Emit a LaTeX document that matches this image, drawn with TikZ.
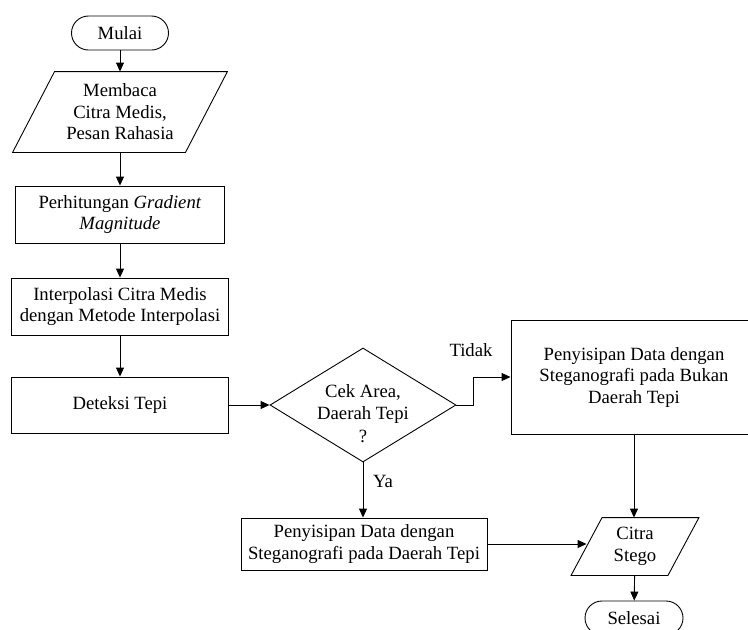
\documentclass[tikz,border=0pt]{standalone}
\usepackage{fontspec}
\setmainfont{Liberation Serif}
\usetikzlibrary{shapes.geometric, arrows.meta}

\newcommand{\jajar}[2]{\draw ([xshift=#2]#1.north west) -- ([xshift=#2]#1.north east) -- ([xshift=-#2]#1.south east) -- ([xshift=-#2]#1.south west) -- cycle;}

\tikzset{
  terminal/.style={draw, rectangle, rounded corners=17pt, minimum height=34pt, inner sep=0pt},
  proses/.style={draw, rectangle, align=center, minimum height=57pt, inner sep=0pt},
  dataio/.style={rectangle, align=center, inner sep=0pt},
  cek/.style={draw, diamond, aspect=1.63, align=center, inner sep=-10pt, minimum width=186pt, minimum height=114pt}
}

\begin{document}
\begin{tikzpicture}[x=1pt, y=-1pt, line width=0.9pt, font=\fontsize{18.7}{21.5}\selectfont, >={Triangle[length=9pt,width=8pt]}]
          \useasboundingbox (0,0) rectangle (748,630);
          \node[terminal, minimum width=97pt] (mulai) at (120,33) {Mulai};
          \node[dataio, minimum width=172pt, minimum height=80pt] (baca) at (120,112) {Membaca\\Citra Medis,\\Pesan Rahasia};
          \jajar{baca}{21pt}
          \node[proses, minimum width=209pt] (gradien) at (120,214.5) {Perhitungan \textit{Gradient}\\\textit{Magnitude}};
          \node[proses, minimum width=217pt] (interp) at (120,306.5) {Interpolasi Citra Medis\\dengan Metode Interpolasi};
          \node[proses, minimum width=217pt, minimum height=56pt] (tepi) at (120,405) {Deteksi Tepi};
          \node[cek] (cek) at (363,405) {\rule{0pt}{30pt}Cek Area,\\Daerah Tepi\\[1.5pt]?};
          \node[proses, minimum width=246pt, minimum height=114pt] (bukan) at (634,377) {Penyisipan Data dengan\\Steganografi pada Bukan\\Daerah Tepi};
          \node[proses, minimum width=246pt, minimum height=52pt] (sisip) at (364,544) {Penyisipan Data dengan\\Steganografi pada Daerah Tepi};
          \node[dataio, minimum width=96pt, minimum height=57pt] (stego) at (635,546.5) {Citra\\Stego};
          \jajar{stego}{15.5pt}
          \node[terminal, minimum width=98pt] (selesai) at (634,618) {Selesai};
          \node (tidak) at (471,350) {Tidak};
          \node (ya) at (383,481) {Ya};
          \draw[->] (mulai) -- (baca);
          \draw[->] (baca) -- (gradien);
          \draw[->] (gradien) -- (interp);
          \draw[->] (interp) -- (tepi);
          \draw[->] (tepi) -- (cek);
          \draw[->] (cek.east) -- ++(17,0) |- (bukan.west);
          \draw[->] (cek.south) -- (cek.south |- sisip.north);
          \draw[->] (sisip.east) -- (sisip.east -| stego.west);
          \draw[->] (bukan.south) -- (bukan.south |- stego.north);
          \draw[->] (stego) -- (selesai);
        \end{tikzpicture}
\end{document}
